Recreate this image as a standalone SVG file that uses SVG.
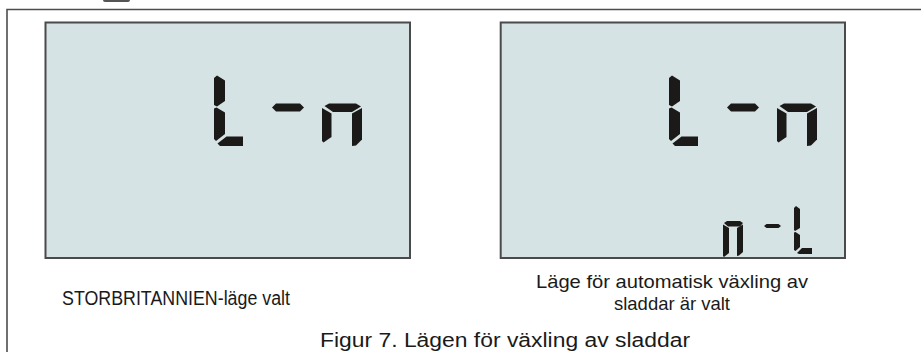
<svg xmlns="http://www.w3.org/2000/svg" xmlns:xlink="http://www.w3.org/1999/xlink" width="921" height="352" viewBox="0 0 921 352">
<style>
.frame{fill:none;stroke:#4d4d4d;stroke-width:1.6}
.lcd{fill:#d6e3e4;stroke:#4a4a4a;stroke-width:2}
.seg{fill:#1b1a19}
.lbl{font-family:"Liberation Sans",Arial,sans-serif;font-size:19.5px;fill:#1a1a1a}
.lbl2{font-family:"Liberation Sans",Arial,sans-serif;font-size:18.5px;fill:#1a1a1a}
.cap{font-family:"Liberation Sans",Arial,sans-serif;font-size:20px;fill:#1a1a1a}
</style>
<defs>
<g id="bigDigits" class="seg">
<polygon points="214,78 217,75.5 225,80.5 225,101 217,106.5 214,105"/>
<polygon points="214,108.5 216.5,107.5 225,112.5 225,134 216,141 214,139"/>
<polygon points="217.5,143.5 226.5,136.5 243,136.5 243,146 220,146"/>
<polygon points="272,107.5 276,103.5 300,103.5 304,107.5 300,111.5 276,111.5"/>
<polygon points="324.5,106 329,103.5 356,103.5 361,106.5 352,112 333,112"/>
<polygon points="322,108 331.5,113.5 331.5,137 323.5,142.5 322,141"/>
<polygon points="362,108 362,139.5 356,145.5 352,146 352,113.5"/>
</g>
</defs>
<g id="outer-frame">
<path class="frame" d="M7,352 V9.5 H921"/>
<rect x="103" y="-3" width="27" height="5" rx="2" fill="#555"/>
</g>
<g id="lcd-uk">
<rect class="lcd" x="45.5" y="22.5" width="364.5" height="235.5"/>
<use xlink:href="#bigDigits"/>
</g>
<g id="lcd-auto">
<rect class="lcd" x="500.7" y="22.5" width="344.3" height="235.5"/>
<use xlink:href="#bigDigits" transform="translate(455,0)"/>
<g class="seg">
<polygon points="724,223 727,221 740,221 743,223 740,226.5 728,226.5"/>
<polygon points="723,224.5 729,228 729,253 724,257 723,256"/>
<polygon points="743,224.5 743,252 739,255.5 737,256 737,228"/>
<polygon points="764,226 766.5,224 778.5,224 781,226 778.5,228 766.5,228"/>
<polygon points="794,208 796,206 800,209 800,228 795,231 794,230"/>
<polygon points="794,232.5 795.5,232 800,235 800,247 795.5,251 794,250"/>
<polygon points="797,253 802,248 812,248 812,254 799,254"/>
</g>
</g>
<g id="labels">
<text class="lbl" x="62" y="305" textLength="228" lengthAdjust="spacingAndGlyphs">STORBRITANNIEN-läge valt</text>
<text class="lbl2" x="536" y="288" textLength="272" lengthAdjust="spacingAndGlyphs">Läge för automatisk växling av</text>
<text class="lbl2" x="614" y="309.5" textLength="116" lengthAdjust="spacingAndGlyphs">sladdar är valt</text>
<text class="cap" x="320" y="347" textLength="370" lengthAdjust="spacingAndGlyphs">Figur 7. Lägen för växling av sladdar</text>
</g>
</svg>
